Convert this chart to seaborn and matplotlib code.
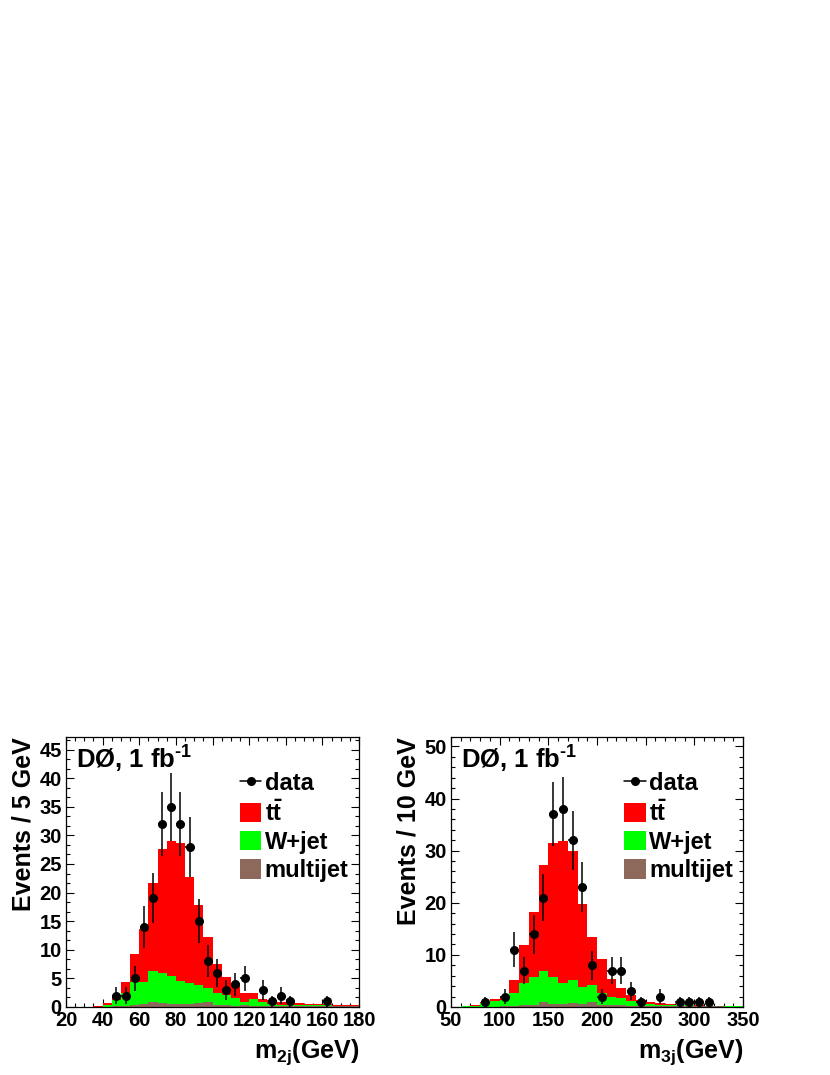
import numpy as np
import pandas as pd
import matplotlib
matplotlib.use("Agg")
import matplotlib.pyplot as plt
import seaborn as sns
from matplotlib.ticker import MultipleLocator
from matplotlib.lines import Line2D
from matplotlib.patches import Patch

# m_2j, 5 GeV bins from 20 to 180 GeV
m2j_edges = np.arange(20, 181, 5)
m2j_multijet = [0, 0, 0, 0, 0, 0.1, 0.2, 0.4, 0.5, 0.8, 0.7, 0.5, 0.6, 0.5, 0.7, 0.8,
                0.4, 0.3, 0.2, 0.3, 0.2, 0.2, 0.1, 0.1, 0.1, 0.1, 0.1, 0.1, 0.1, 0.1, 0.15, 0.15]
m2j_wjet = [0, 0, 0, 0.05, 0.35, 1.1, 2.3, 3.9, 3.9, 5.5, 5.2, 5.0, 4.0, 3.7, 3.2, 2.5,
            2.1, 1.8, 1.3, 0.6, 1.2, 0.6, 0.4, 0.3, 0.3, 0.2, 0.2, 0.2, 0.2, 0.1, 0.05, 0.05]
m2j_ttbar = [0, 0, 0, 0.1, 0.35, 0.9, 1.8, 4.9, 9.3, 15.4, 21.7, 23.5, 24.1, 18.6, 14.0, 8.9,
             5.1, 3.1, 2.3, 1.6, 1.1, 0.6, 0.7, 0.5, 0.4, 0.4, 0.3, 0.2, 0.2, 0.2, 0.1, 0.1]
m2j_data = [0, 0, 0, 0, 0, 2, 2, 5, 14, 19, 32, 35, 32, 28, 15, 8,
            6, 3, 4, 5, 0, 3, 1, 2, 1, 0, 0, 0, 1, 0, 0, 0]

# m_3j, 10 GeV bins from 50 to 350 GeV
m3j_edges = np.arange(50, 351, 10)
m3j_multijet = [0, 0, 0, 0, 0.05, 0.1, 0.1, 0.3, 0.4, 0.9, 0.6, 0.6, 0.7, 0.6, 1.0,
                0.4, 0.3, 0.3, 0.2, 0.15, 0.1, 0.1, 0.1, 0.1, 0.1, 0.1, 0.15, 0.15, 0.05, 0.05]
m3j_wjet = [0, 0.1, 0.25, 0.7, 1.15, 1.2, 2.6, 4.3, 5.3, 6.1, 5.2, 4.1, 4.5, 3.3, 3.2,
            2.3, 1.6, 1.4, 0.9, 0.55, 0.4, 0.3, 0.3, 0.2, 0.2, 0.15, 0.05, 0.05, 0.15, 0.15]
m3j_ttbar = [0, 0, 0.05, 0.3, 0.3, 0.8, 2.5, 7.2, 12.5, 20.3, 25.7, 27.1, 24.8, 15.9, 9.3,
             6.5, 3.4, 1.9, 1.2, 0.6, 0.5, 0.4, 0.2, 0.1, 0, 0.05, 0.05, 0, 0, 0]
m3j_data = [0, 0, 0, 1, 0, 2, 11, 7, 14, 21, 37, 38, 32, 23, 8,
            2, 7, 7, 3, 1, 0, 2, 0, 1, 1, 1, 1, 0, 0, 0]

process_names = ["ttbar", "wjet", "multijet"]
colors = {"ttbar": "#ff0000", "wjet": "#00ff00", "multijet": "#8c695a"}

sns.set_theme(style="ticks")
plt.rcParams.update({
    "font.family": ["Liberation Sans", "DejaVu Sans"],
    "font.weight": "bold",
    "axes.labelweight": "bold",
    "mathtext.fontset": "custom",
    "mathtext.rm": "Liberation Sans:bold",
    "mathtext.bf": "Liberation Sans:bold",
    "mathtext.it": "Liberation Sans:bold",
    "mathtext.default": "bf",
    "axes.linewidth": 0.9,
    "axes.edgecolor": "black",
    "axes.labelcolor": "black",
    "text.color": "black",
    "xtick.color": "black",
    "ytick.color": "black",
})


def draw_panel(ax, edges, ttbar, wjet, multijet, data, ymax, xmajor, xminor,
               ymajor, yminor, xlabel, ylabel):
    centers = (edges[:-1] + edges[1:]) / 2
    frames = []
    for name, vals in zip(process_names, [ttbar, wjet, multijet]):
        frames.append(pd.DataFrame({"mass": centers, "events": vals, "process": name}))
    df = pd.concat(frames, ignore_index=True)

    # stacked MC: multijet at the bottom, then W+jet, then ttbar
    sns.histplot(data=df, x="mass", weights="events", hue="process",
                 hue_order=process_names, multiple="stack", bins=list(edges),
                 element="step", fill=True, palette=colors, linewidth=0,
                 alpha=1, legend=False, ax=ax)

    data = np.array(data, dtype=float)
    keep = data > 0
    half = (edges[1] - edges[0]) / 2
    ax.errorbar(centers[keep], data[keep], yerr=np.sqrt(data[keep]), xerr=half * 0.9,
                fmt="o", color="black", markersize=5.5, elinewidth=1.1, capsize=0,
                zorder=5)

    ax.set_xlim(edges[0], edges[-1])
    ax.set_ylim(0, ymax)
    ax.xaxis.set_major_locator(MultipleLocator(xmajor))
    ax.xaxis.set_minor_locator(MultipleLocator(xminor))
    ax.yaxis.set_major_locator(MultipleLocator(ymajor))
    ax.yaxis.set_minor_locator(MultipleLocator(yminor))
    ax.tick_params(which="both", direction="in", top=True, right=True, width=0.8,
                   labelsize=14.5, pad=3, colors="black")
    ax.tick_params(which="major", length=6)
    ax.tick_params(which="minor", length=3)
    for lab in ax.get_xticklabels() + ax.get_yticklabels():
        lab.set_fontweight("bold")

    ax.set_xlabel(xlabel, fontsize=18, loc="right", labelpad=5)
    ax.set_ylabel(ylabel, fontsize=18, loc="top", labelpad=3)

    ax.text(0.035, 0.975, r"DØ, 1 fb$^{\text{-1}}$", transform=ax.transAxes,
            fontsize=18.5, fontweight="bold", va="top", ha="left")

    handles = [
        Line2D([], [], color="black", marker="o", markersize=5.5, lw=1.1),
        Patch(facecolor=colors["ttbar"], edgecolor="none"),
        Patch(facecolor=colors["wjet"], edgecolor="none"),
        Patch(facecolor=colors["multijet"], edgecolor="none"),
    ]
    labels = ["data", r"$t\bar{t}$", "W+jet", "multijet"]
    ax.legend(handles, labels, loc="upper left", bbox_to_anchor=(0.594, 0.87),
              frameon=False, borderpad=0, borderaxespad=0,
              handlelength=0.9, handleheight=0.9, handletextpad=0.15,
              labelspacing=0.22, prop={"weight": "bold", "size": 17})


fig = plt.figure(figsize=(8.3, 10.75), dpi=100)
ax1 = fig.add_axes([66 / 830, 68 / 1075, 293 / 830, 270 / 1075])
ax2 = fig.add_axes([451 / 830, 68 / 1075, 292 / 830, 270 / 1075])

draw_panel(ax1, m2j_edges, m2j_ttbar, m2j_wjet, m2j_multijet, m2j_data, 47.2,
           20, 5, 5, 5 / 3, r"m$_{2j}$(GeV)", "Events / 5 GeV")
draw_panel(ax2, m3j_edges, m3j_ttbar, m3j_wjet, m3j_multijet, m3j_data, 51.8,
           50, 10, 10, 2, r"m$_{3j}$(GeV)", "Events / 10 GeV")

fig.savefig("out.png", dpi=100, facecolor="white")
